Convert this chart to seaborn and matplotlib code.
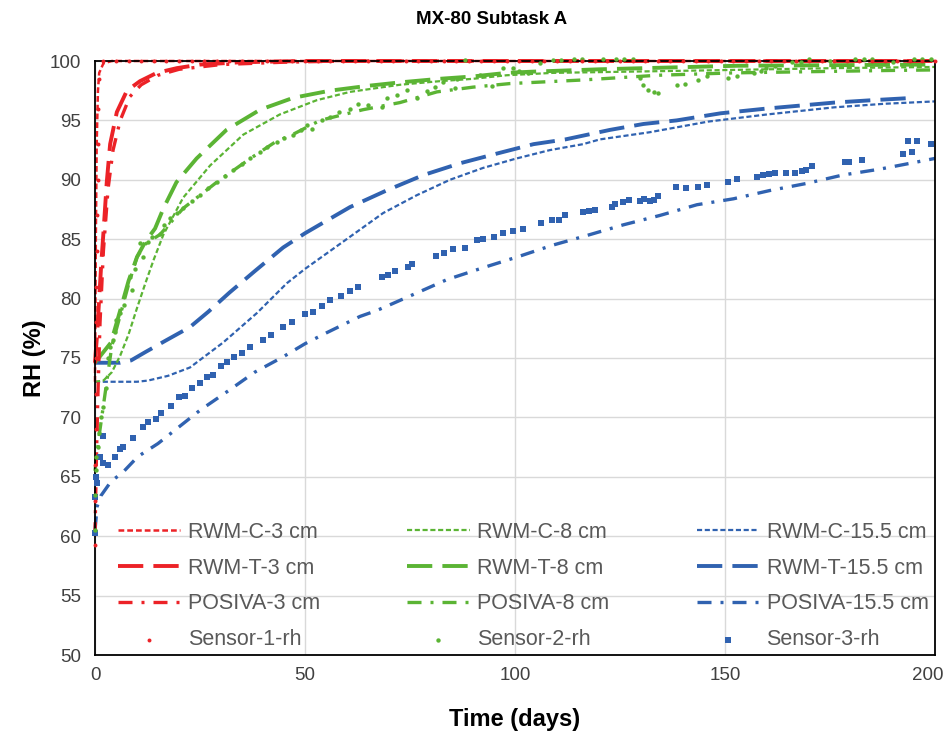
import matplotlib
matplotlib.use("Agg")
import matplotlib.pyplot as plt
import matplotlib.transforms as mtransforms
import seaborn as sns

# ---------------- data ----------------
# 3 cm (red)
rwmc3_t = [0, 0.2, 0.4, 0.7, 1.0, 2.0, 4.0, 10, 50, 100, 150, 200]
rwmc3_rh = [73.0, 85.0, 93.0, 97.5, 99.0, 99.8, 100, 100, 100, 100, 100, 100]
rwmt3_t = [0, 0.5, 1.0, 1.5, 2.0, 2.8, 3.6, 5.2, 7.6, 10.7, 14.7, 19.5, 25, 35, 50, 100, 150, 200]
rwmt3_rh = [74.6, 77.0, 80.0, 83.0, 85.5, 89.8, 93.0, 95.7, 97.5, 98.3, 99.0, 99.4, 99.7, 99.9, 100, 100, 100, 100]
posiva3_t = [0, 0.3, 0.7, 1.2, 2.0, 3.1, 4.3, 6.0, 8.3, 11, 15, 20, 30, 45, 60, 100, 150, 200]
posiva3_rh = [60.0, 66.0, 72.0, 78.0, 84.0, 89.2, 92.5, 95.0, 97.0, 98.0, 98.8, 99.3, 99.7, 99.9, 100, 100, 100, 100]
s1_t = [0, 0.05, 0.1, 0.15, 0.2, 0.25, 0.3, 0.35, 0.4, 0.5, 0.6, 0.7, 0.8, 1.0,
        2, 5, 8, 11, 14, 17, 20, 23, 26, 29, 32, 35, 38, 41, 44, 47, 50, 53, 56, 59,
        62, 65, 68, 71, 74, 77, 80, 83, 86, 89, 92, 95, 98, 101, 104, 107, 110, 113,
        116, 119, 122, 125, 128, 131, 134, 137, 140, 143, 146, 149, 152, 155, 158,
        161, 164, 167, 170, 173, 176, 179, 182, 185, 188, 191, 194, 197, 200]
s1_rh = [59.3, 63.0, 66.0, 69.0, 72.0, 75.0, 78.0, 81.0, 84.0, 87.0, 90.0, 93.0, 96.0, 98.5,
         100, 100, 100, 100, 100, 100, 100, 100, 100, 100, 100, 100, 100, 100, 100, 100,
         100, 100, 100, 100, 100, 100, 100, 100, 100, 100, 100, 100, 100, 100, 100, 100,
         100, 100, 100, 100, 100, 100, 100, 100, 100, 100, 100, 100, 100, 100, 100, 100,
         100, 100, 100, 100, 100, 100, 100, 100, 100, 100, 100, 100, 100, 100, 100, 100,
         100, 100, 100]

# 8 cm (green)
rwmc8_t = [0, 2, 4, 6, 8, 10, 12, 14, 16.3, 21, 27.4, 35.3, 44, 52.8, 60.7, 72.6, 82, 90, 98, 109, 144, 176, 200]
rwmc8_rh = [73.0, 73.1, 73.8, 75.2, 77.0, 79.2, 81.3, 83.3, 85.4, 88.5, 91.2, 93.8, 95.5, 96.7, 97.4, 98.0, 98.3, 98.5, 98.8, 99.0, 99.2, 99.4, 99.5]
rwmt8_t = [0, 2, 3.8, 6, 8, 10, 12, 14.3, 16.3, 19.4, 24.2, 31.3, 39.3, 47.2, 55.9, 64.7, 72.6, 82, 90, 98, 104, 120, 153, 200]
rwmt8_rh = [74.6, 75.5, 76.3, 79.0, 81.5, 83.5, 84.8, 85.9, 87.6, 89.8, 91.8, 94.2, 95.9, 96.9, 97.5, 97.9, 98.2, 98.5, 98.7, 99.0, 99.1, 99.3, 99.6, 99.7]
posiva8_t = [0, 0.5, 1, 2, 3, 4, 6, 8, 10, 12, 15.5, 21, 25, 29, 33, 37, 43, 47, 53.6, 63.8, 72.6, 81.4, 90, 98.8, 116, 134, 152, 170, 188.5, 200]
posiva8_rh = [65.5, 67.0, 68.5, 71.0, 73.5, 76.0, 78.6, 81.2, 83.5, 84.6, 85.4, 87.6, 88.7, 89.8, 90.8, 91.8, 93.2, 93.8, 95.0, 95.9, 96.5, 97.4, 97.8, 98.1, 98.4, 98.8, 99.0, 99.1, 99.2, 99.25]
s2_t = [0, 0.1, 0.2, 0.3, 0.6, 1.0, 1.4, 1.9, 2.5, 3.1, 3.6, 4.2, 4.7, 5.0, 6.0, 7.0, 8.3, 8.8,
        9.5, 10.7, 11.4, 12.5, 13.5, 15.5, 16.5, 17.9, 19.5, 21, 23, 25, 27, 29, 31, 32.9,
        35, 36.9, 39.3, 41, 43.3, 45, 47.2, 49, 50.5, 51.6, 54, 56, 58, 60.7, 62.7, 65,
        68.3, 69.5, 71.8, 74.2, 76.6, 79, 81, 82.9, 85.7, 86.1, 88, 91.7, 94.5, 97.1, 99.5,
        101, 103, 106, 109, 111, 114, 116, 121, 124, 126, 128, 129.8, 130.5, 131.7, 133,
        134, 138.5, 140.5, 143.6, 145.6, 150.8, 152.8, 157, 158.6, 159.8, 162, 166, 168,
        170, 175, 181, 183, 185, 190, 195, 197, 199]
s2_rh = [60.5, 63.5, 65.6, 66.7, 67.5, 68.7, 70.0, 70.9, 72.5, 75.0, 75.9, 76.5, 77.2, 78.2, 78.8, 79.5, 81.8, 80.7,
         82.5, 84.7, 83.5, 84.8, 85.2, 85.4, 86.2, 86.8, 87.2, 87.6, 88.2, 88.7, 89.3, 89.8, 90.3, 90.8,
         91.3, 91.8, 92.3, 92.8, 93.2, 93.5, 93.8, 94.2, 94.6, 94.3, 95.0, 95.3, 95.7, 96.0, 96.4, 96.3,
         96.1, 96.9, 97.1, 97.6, 96.9, 97.5, 97.8, 98.2, 97.7, 98.5, 100.1, 98.8, 97.9, 99.4, 99.4,
         99.2, 99.0, 99.8, 100.1, 100.1, 100.2, 100.2, 100.2, 100.2, 100.2, 100.2, 98.6, 98.0, 97.6, 97.4,
         97.3, 98.0, 98.1, 98.4, 98.7, 98.6, 98.7, 99.0, 99.2, 99.4, 99.6, 99.9, 99.9,
         100.2, 100.0, 100.2, 100.2, 100.2, 99.9, 100.2, 100.2, 100.2]

# 15.5 cm (blue)
rwmc15_t = [0, 5, 10, 12.6, 17.4, 22.6, 30.5, 38.6, 45.7, 50, 60.7, 68.6, 76.6, 84.5, 92.4, 100.4, 108.3, 116.2, 120.2, 132, 146, 160, 176, 188, 200]
rwmc15_rh = [73.0, 73.0, 73.0, 73.1, 73.5, 74.2, 76.3, 78.8, 81.3, 82.5, 85.2, 87.2, 88.7, 90.0, 91.0, 91.8, 92.5, 93.0, 93.4, 94.0, 94.9, 95.5, 96.1, 96.4, 96.6]
rwmt15_t = [0, 3, 6, 8.6, 12, 17, 22.6, 27, 32, 38, 44.8, 50, 60.7, 69.4, 78.2, 87, 95.6, 104.4, 112, 122.6, 130.6, 138.5, 149, 160, 176, 185, 195]
rwmt15_rh = [74.6, 74.6, 74.6, 74.8, 75.5, 76.5, 77.6, 78.9, 80.5, 82.3, 84.3, 85.5, 87.7, 89.1, 90.4, 91.4, 92.2, 93.0, 93.4, 94.2, 94.7, 95.0, 95.6, 96.0, 96.5, 96.7, 96.9]
posiva15_t = [0, 0.5, 1.4, 3.8, 6.7, 10.2, 15, 20, 25, 32, 38, 44.8, 50, 55, 63.1, 67.1, 71, 75.5, 83.8, 92.4, 100.5, 109, 117, 125.7, 134.5, 143.3, 152, 160.7, 169.5, 178, 186.9, 195.7, 200]
posiva15_rh = [60.5, 62.5, 63.4, 64.6, 65.4, 66.7, 67.8, 69.2, 70.6, 72.3, 73.8, 75.1, 76.2, 77.1, 78.5, 79.0, 79.6, 80.3, 81.6, 82.6, 83.5, 84.5, 85.3, 86.2, 87.0, 87.9, 88.4, 89.1, 89.7, 90.4, 90.9, 91.5, 91.8]
s3_t = [0, 0.1, 0.2, 0.5, 1.2, 1.9, 2.0, 3.0, 4.7, 5.9, 6.6, 9, 11.4, 12.6, 14.6, 15.7, 18, 20,
        21.5, 23, 25, 26.7, 28, 30, 31.5, 33, 35, 37, 40, 42, 44.8, 47, 50, 52, 54, 56, 58.5,
        60.7, 62.6, 68.3, 69.8, 71.4, 74.5, 75.5, 81.2, 83.2, 85.3, 88.1, 90.9, 92.4, 95, 97.2,
        99.5, 102, 106.2, 108.8, 110.4, 111.9, 116.3, 117.5, 119, 123.1, 123.8, 125.8, 127.2,
        129.8, 130.6, 132.1, 133, 134.1, 138.3, 140.8, 143.6, 145.6, 150.7, 152.8, 157.6, 159,
        160.5, 161.9, 164.5, 166.6, 168.3, 169.3, 170.7, 178.6, 179.5, 182.6, 192.4, 193.6,
        194.5, 195.7, 199]
s3_rh = [60.3, 63.3, 65.0, 64.5, 66.7, 68.4, 66.2, 66.0, 66.7, 67.3, 67.5, 68.3, 69.2, 69.6, 69.9, 70.4, 71.0, 71.7,
         71.8, 72.5, 72.9, 73.4, 73.6, 74.3, 74.7, 75.1, 75.4, 75.9, 76.5, 76.9, 77.6, 78.0, 78.7, 78.9, 79.4, 79.9, 80.2,
         80.6, 81.0, 81.8, 82.0, 82.3, 82.7, 82.9, 83.6, 83.8, 84.2, 84.3, 84.9, 85.0, 85.2, 85.5,
         85.7, 85.9, 86.4, 86.6, 86.6, 87.0, 87.3, 87.4, 87.5, 87.7, 88.0, 88.1, 88.3,
         88.2, 88.4, 88.2, 88.3, 88.6, 89.4, 89.3, 89.4, 89.6, 89.8, 90.1, 90.2, 90.4,
         90.5, 90.6, 90.6, 90.6, 90.7, 90.8, 91.2, 91.5, 91.5, 91.7, 92.2, 93.3,
         92.3, 93.3, 93.0]

x_ticks = [0, 50, 100, 150, 200]
y_ticks = [50, 55, 60, 65, 70, 75, 80, 85, 90, 95, 100]

# ---------------- styling ----------------
sns.set_theme(style="white")
plt.rcParams['font.family'] = ['Liberation Sans', 'DejaVu Sans']

RED = '#EC2227'
GREEN = '#5BB434'
BLUE = '#3062B0'

fig = plt.figure(figsize=(9.47, 7.33), dpi=100)
ax = fig.add_axes([95 / 947, 1 - 655 / 733, 840 / 947, 594 / 733])

ls_c = (0, (2.3, 1.2))
ls_t = (0, (6.5, 2.6))
ls_p = (0, (4.2, 2.7, 0.9, 2.7))

def line(t, rh, color, style, lw, label):
    sns.lineplot(x=t, y=rh, ax=ax, color=color, linestyle=style, linewidth=lw,
                 sort=False, estimator=None, label=label, clip_on=False)

def pts(t, rh, color, marker, s, label):
    sns.scatterplot(x=t, y=rh, ax=ax, color=color, marker=marker, s=s,
                    linewidth=0, label=label, clip_on=False, zorder=5)

line(rwmc15_t, rwmc15_rh, BLUE, ls_c, 1.6, 'RWM-C-15.5 cm')
line(rwmt15_t, rwmt15_rh, BLUE, ls_t, 2.8, 'RWM-T-15.5 cm')
line(posiva15_t, posiva15_rh, BLUE, ls_p, 2.4, 'POSIVA-15.5 cm')
line(rwmc8_t, rwmc8_rh, GREEN, ls_c, 1.6, 'RWM-C-8 cm')
line(rwmt8_t, rwmt8_rh, GREEN, ls_t, 2.8, 'RWM-T-8 cm')
line(posiva8_t, posiva8_rh, GREEN, ls_p, 2.4, 'POSIVA-8 cm')
line(rwmc3_t, rwmc3_rh, RED, ls_c, 1.8, 'RWM-C-3 cm')
line(rwmt3_t, rwmt3_rh, RED, ls_t, 2.8, 'RWM-T-3 cm')
line(posiva3_t, posiva3_rh, RED, ls_p, 2.4, 'POSIVA-3 cm')
pts(s3_t, s3_rh, BLUE, 's', 14, 'Sensor-3-rh')
pts(s2_t, s2_rh, GREEN, 'o', 10, 'Sensor-2-rh')
pts(s1_t, s1_rh, RED, 'o', 8, 'Sensor-1-rh')

ax.set_xlim(0, 200)
ax.set_ylim(50, 100)
ax.set_xticks(x_ticks)
ax.set_yticks(y_ticks)
ax.grid(True, color='#D9D9D9', linewidth=1.0)
ax.set_axisbelow(True)
for sp in ax.spines.values():
    sp.set_color('black')
    sp.set_linewidth(1.3)
ax.tick_params(axis='both', length=0, labelsize=13.5, colors='#404040', pad=10)
ax.tick_params(axis='x', pad=9)

# keep the last x tick label inside the figure, as in the reference
fig.canvas.draw()
last = ax.get_xticklabels()[-1]
last.set_transform(last.get_transform() +
                   mtransforms.ScaledTranslation(-7 / 100, 0, fig.dpi_scale_trans))

ax.set_xlabel('Time (days)', fontsize=17, fontweight='bold', color='black', labelpad=17)
ax.set_ylabel('RH (%)', fontsize=17, fontweight='bold', color='black', labelpad=3)
fig.text(0.519, 1 - 19 / 733, 'MX-80 Subtask A', ha='center', va='center',
         fontsize=13.5, fontweight='bold', color='black')

handles, labels = ax.get_legend_handles_labels()
hmap = dict(zip(labels, handles))
order = ['RWM-C-3 cm', 'RWM-T-3 cm', 'POSIVA-3 cm', 'Sensor-1-rh',
         'RWM-C-8 cm', 'RWM-T-8 cm', 'POSIVA-8 cm', 'Sensor-2-rh',
         'RWM-C-15.5 cm', 'RWM-T-15.5 cm', 'POSIVA-15.5 cm', 'Sensor-3-rh']
leg = ax.legend([hmap[k] for k in order], order, ncol=3, loc='lower left',
                bbox_to_anchor=(23 / 840, 0.008), frameon=False, fontsize=15.5,
                handlelength=2.9, handletextpad=0.35, columnspacing=4.05,
                labelspacing=0.69, borderpad=0, borderaxespad=0, scatterpoints=1)
for txt in leg.get_texts():
    txt.set_color('#595959')

fig.savefig('out.png', dpi=100)
